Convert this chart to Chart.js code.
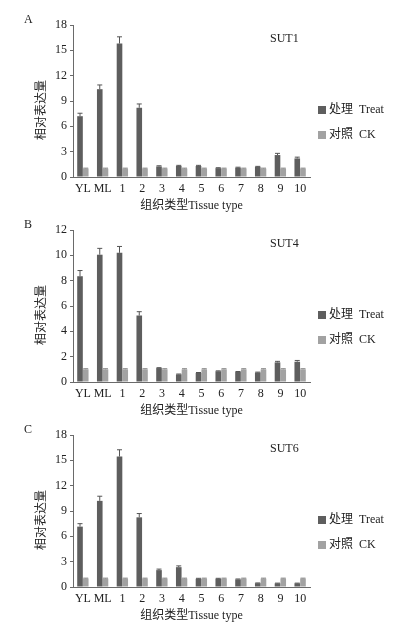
<!DOCTYPE html>
<html>
<head>
<meta charset="utf-8">
<script src="https://cdn.jsdelivr.net/npm/chart.js@4.4.1/dist/chart.umd.min.js"></script>
<style>
  body { margin: 0; background: #fff; }
  .panel { position: absolute; left: 0; width: 399px; height: 215px; }
</style>
</head>
<body>
<div class="panel" style="top:0px"><canvas id="chartA" width="399" height="215"></canvas></div>
<div class="panel" style="top:205px"><canvas id="chartB" width="399" height="215"></canvas></div>
<div class="panel" style="top:410px"><canvas id="chartC" width="399" height="215"></canvas></div>
<script>
// tissue types on the x axis
const categories = ['YL', 'ML', '1', '2', '3', '4', '5', '6', '7', '8', '9', '10'];

// SUT1 (panel A)
const sut1Treat    = [7.2, 10.4, 15.8, 8.2, 1.25, 1.3, 1.3, 1.05, 1.1, 1.2, 2.6, 2.2];
const sut1TreatErr = [0.35, 0.5, 0.8, 0.45, 0.08, 0.08, 0.08, 0.05, 0.06, 0.06, 0.2, 0.15];
const sut1Ck       = [1, 1, 1, 1, 1, 1, 1, 1, 1, 1, 1, 1];

// SUT4 (panel B)
const sut4Treat    = [8.35, 10.05, 10.2, 5.25, 1.1, 0.6, 0.72, 0.85, 0.8, 0.75, 1.55, 1.6];
const sut4TreatErr = [0.45, 0.5, 0.5, 0.3, 0.03, 0.03, 0.03, 0.03, 0.03, 0.03, 0.08, 0.1];
const sut4Ck       = [1, 1, 1, 1, 1, 1, 1, 1, 1, 1, 1, 1];

// SUT6 (panel C)
const sut6Treat    = [7.15, 10.2, 15.45, 8.25, 2.0, 2.35, 0.98, 0.98, 0.9, 0.45, 0.43, 0.43];
const sut6TreatErr = [0.35, 0.55, 0.8, 0.45, 0.12, 0.15, 0.05, 0.05, 0.05, 0.03, 0.03, 0.03];
const sut6Ck       = [1, 1, 1, 1, 1, 1, 1, 1, 1, 1, 1, 1];

const ckErr = [0.05, 0.05, 0.05, 0.05, 0.05, 0.05, 0.05, 0.05, 0.05, 0.05, 0.05, 0.05];

// y axis ranges / tick steps per panel
const yMaxA = 18, yStepA = 3;
const yMaxB = 12, yStepB = 2;
const yMaxC = 18, yStepC = 3;

const FONT = '"Liberation Serif", "Noto Sans CJK SC", serif';
const TREAT_COLOR = '#5e5e5e';
const CK_COLOR = '#a2a2a2';
const AXIS_COLOR = '#6a6a6a';

// error bars drawn on top of each bar
const errorBars = {
    id: 'errorBars',
    afterDatasetsDraw(chart) {
        const ctx = chart.ctx;
        const y = chart.scales.y;
        chart.data.datasets.forEach((ds, i) => {
            const meta = chart.getDatasetMeta(i);
            meta.data.forEach((bar, j) => {
                const top = y.getPixelForValue(ds.data[j] + ds.errors[j]);
                ctx.save();
                ctx.strokeStyle = ds.errColor;
                ctx.lineWidth = 1;
                ctx.beginPath();
                ctx.moveTo(bar.x, bar.y);
                ctx.lineTo(bar.x, top);
                ctx.moveTo(bar.x - 2.5, top);
                ctx.lineTo(bar.x + 2.5, top);
                ctx.stroke();
                ctx.restore();
            });
        });
    }
};

// panel letter, gene name, y title and legend
const decorations = {
    id: 'decorations',
    afterDraw(chart, args, opts) {
        const ctx = chart.ctx;
        ctx.save();
        ctx.fillStyle = '#222';
        ctx.font = '12px ' + FONT;
        ctx.textBaseline = 'middle';
        ctx.textAlign = 'left';
        ctx.fillText(opts.letter, 24, 20);
        ctx.fillText(opts.gene, 270, 39);

        // legend
        ctx.fillStyle = TREAT_COLOR;
        ctx.fillRect(318, 106, 8, 8);
        ctx.fillStyle = CK_COLOR;
        ctx.fillRect(318, 131, 8, 8);
        ctx.fillStyle = '#222';
        ctx.fillText('处理  Treat', 329, 110);
        ctx.fillText('对照  CK', 329, 135);

        // rotated y title
        ctx.translate(42, 110);
        ctx.rotate(-Math.PI / 2);
        ctx.textAlign = 'center';
        ctx.fillText('相对表达量', 0, 0);
        ctx.restore();
    }
};

function makeChart(id, treat, treatErr, ck, yMax, yStep, letter, gene) {
    const ctx = document.getElementById(id).getContext('2d');
    return new Chart(ctx, {
        type: 'bar',
        data: {
            labels: categories,
            datasets: [
                {
                    label: '处理 Treat',
                    data: treat,
                    errors: treatErr,
                    errColor: '#555',
                    backgroundColor: TREAT_COLOR,
                    categoryPercentage: 0.58,
                    barPercentage: 0.98
                },
                {
                    label: '对照 CK',
                    data: ck,
                    errors: ckErr,
                    errColor: '#888',
                    backgroundColor: CK_COLOR,
                    categoryPercentage: 0.58,
                    barPercentage: 0.98
                }
            ]
        },
        options: {
            responsive: false,
            animation: false,
            layout: { padding: { top: 25, right: 89, left: 0, bottom: 0 } },
            plugins: {
                legend: { display: false },
                tooltip: { enabled: false },
                decorations: { letter: letter, gene: gene }
            },
            scales: {
                x: {
                    offset: true,
                    grid: { display: true, drawOnChartArea: false, drawTicks: false },
                    border: { display: true, color: AXIS_COLOR, width: 1 },
                    ticks: { color: '#222', font: { family: FONT, size: 12 }, padding: 5, autoSkip: false, maxRotation: 0 },
                    title: { display: true, text: '组织类型Tissue type', color: '#222', font: { family: FONT, size: 12 }, padding: { top: 0, bottom: 2 } },
                    afterFit(scale) { scale.height = 38; }
                },
                y: {
                    min: 0,
                    max: yMax,
                    ticks: { stepSize: yStep, color: '#222', font: { family: FONT, size: 12 }, padding: 3 },
                    grid: { drawOnChartArea: false, tickLength: 3, color: AXIS_COLOR },
                    border: { display: true, color: AXIS_COLOR, width: 1 },
                    afterFit(scale) { scale.width = 73; }
                }
            }
        },
        plugins: [errorBars, decorations]
    });
}

makeChart('chartA', sut1Treat, sut1TreatErr, sut1Ck, yMaxA, yStepA, 'A', 'SUT1');
makeChart('chartB', sut4Treat, sut4TreatErr, sut4Ck, yMaxB, yStepB, 'B', 'SUT4');
makeChart('chartC', sut6Treat, sut6TreatErr, sut6Ck, yMaxC, yStepC, 'C', 'SUT6');
</script>
</body>
</html>
